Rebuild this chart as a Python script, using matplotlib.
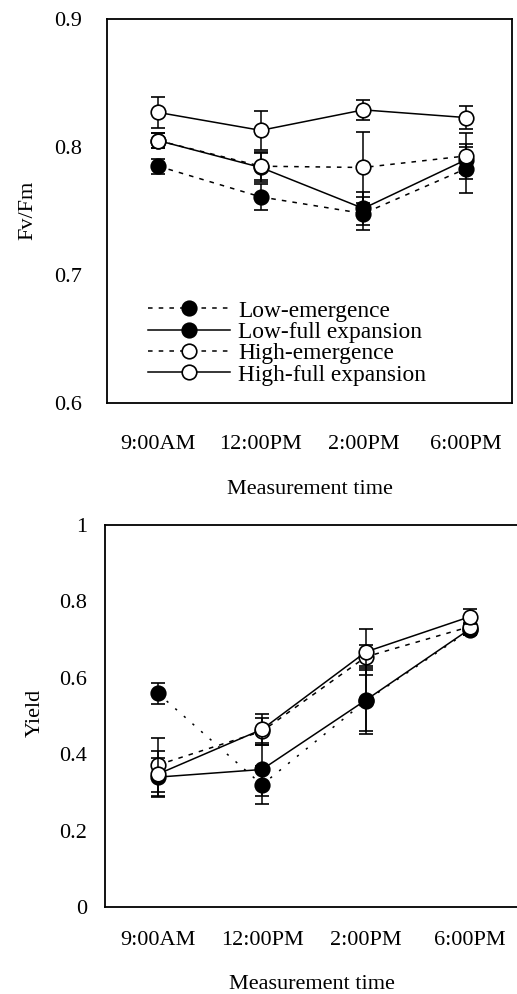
import matplotlib
matplotlib.use("Agg")
import matplotlib.pyplot as plt
from matplotlib.lines import Line2D
import numpy as np

plt.rcParams['font.family'] = ['Liberation Serif', 'DejaVu Serif']

times = ["9:00AM", "12:00PM", "2:00PM", "6:00PM"]
series = ["Low-emergence", "Low-full expansion", "High-emergence", "High-full expansion"]

# Fv/Fm (top panel)
fvfm_low_em = [0.785, 0.761, 0.748, 0.783]
fvfm_low_em_err = [0.006, 0.010, 0.013, 0.019]
fvfm_low_full = [0.805, 0.784, 0.752, 0.790]
fvfm_low_full_err = [0.006, 0.011, 0.013, 0.010]
fvfm_high_em = [0.805, 0.785, 0.784, 0.793]
fvfm_high_em_err = [0.006, 0.011, 0.028, 0.018]
fvfm_high_full = [0.827, 0.813, 0.829, 0.823]
fvfm_high_full_err = [0.012, 0.015, 0.008, 0.009]

# Yield (bottom panel)
yield_low_em = [0.559, 0.320, 0.540, 0.725]
yield_low_em_err = [0.028, 0.050, 0.080, 0.012]
yield_low_full = [0.340, 0.360, 0.542, 0.728]
yield_low_full_err = [0.050, 0.070, 0.090, 0.015]
yield_high_em = [0.372, 0.460, 0.655, 0.734]
yield_high_em_err = [0.070, 0.035, 0.030, 0.020]
yield_high_full = [0.348, 0.465, 0.668, 0.760]
yield_high_full_err = [0.060, 0.040, 0.060, 0.020]

W, H = 517, 994
fig = plt.figure(figsize=(W/100, H/100), dpi=100)

def axes_px(left, top, right, bottom):
    return fig.add_axes([left/W, 1-bottom/H, (right-left)/W, (bottom-top)/H])

ax1 = axes_px(107, 19, 512, 403)
ax2 = axes_px(105, 525, 522, 907)

x = np.arange(1, 5)
fills = ['black', 'black', 'white', 'white']

def draw(ax, vals, errs, lsstyles):
    for i, (v, e) in enumerate(zip(vals, errs)):
        ax.errorbar(x, v, yerr=e, color='black', lw=1.1, ls=lsstyles[i],
                    marker='o', ms=10.5, mfc=fills[i], mec='black', mew=1.2,
                    ecolor='black', elinewidth=1.1, capsize=5, capthick=1.1,
                    zorder=3+i)

draw(ax1, [fvfm_low_em, fvfm_low_full, fvfm_high_em, fvfm_high_full],
     [fvfm_low_em_err, fvfm_low_full_err, fvfm_high_em_err, fvfm_high_full_err],
     [(0, (3, 4)), '-', (0, (3, 4)), '-'])
draw(ax2, [yield_low_em, yield_low_full, yield_high_em, yield_high_full],
     [yield_low_em_err, yield_low_full_err, yield_high_em_err, yield_high_full_err],
     [(0, (1.5, 6)), '-', (0, (3, 4)), '-'])

ax1.set_xlim(0.5, 4.45)
ax1.set_ylim(0.6, 0.9)
ax1.set_yticks([0.6, 0.7, 0.8, 0.9])
ax1.set_yticklabels(["0.6", "0.7", "0.8", "0.9"])
ax2.set_xlim(0.49, 4.5)
ax2.set_ylim(0, 1)
ax2.set_yticks([0, 0.2, 0.4, 0.6, 0.8, 1.0])
ax2.set_yticklabels(["0", "0.2", "0.4", "0.6", "0.8", "1"])

for ax, ypad, xpad in [(ax1, 18, 23), (ax2, 13, 17)]:
    ax.set_xticks(x)
    ax.set_xticklabels(times)
    ax.tick_params(axis='both', length=0, labelsize=16)
    ax.tick_params(axis='y', pad=ypad)
    ax.tick_params(axis='x', pad=xpad)
    for s in ax.spines.values():
        s.set_linewidth(1.3)
    ax.set_xlabel("Measurement time", fontsize=16)

ax1.xaxis.set_label_coords(0.5, (403-480)/384)
ax2.xaxis.set_label_coords((312-105)/417, (907-975)/382)
ax1.set_ylabel("Fv/Fm", fontsize=16)
ax1.yaxis.set_label_coords((37-107)/405, (403-210)/384)
ax2.set_ylabel("Yield", fontsize=16)
ax2.yaxis.set_label_coords((45-105)/417, (907-713)/382)

handles = [Line2D([], [], color='black', lw=1.1, ls=ls, marker='o', ms=10.5,
                  mfc=f, mec='black', mew=1.2)
           for ls, f in zip([(0, (3, 4)), '-', (0, (3, 4)), '-'], fills)]
leg = ax1.legend(handles, series, loc='lower left',
                 bbox_to_anchor=((139-107)/405, (403-395)/384),
                 frameon=False, fontsize=16.8, handlelength=3.5, handletextpad=0.35,
                 labelspacing=0.0, borderaxespad=0)

fig.savefig("out.png", dpi=100)
